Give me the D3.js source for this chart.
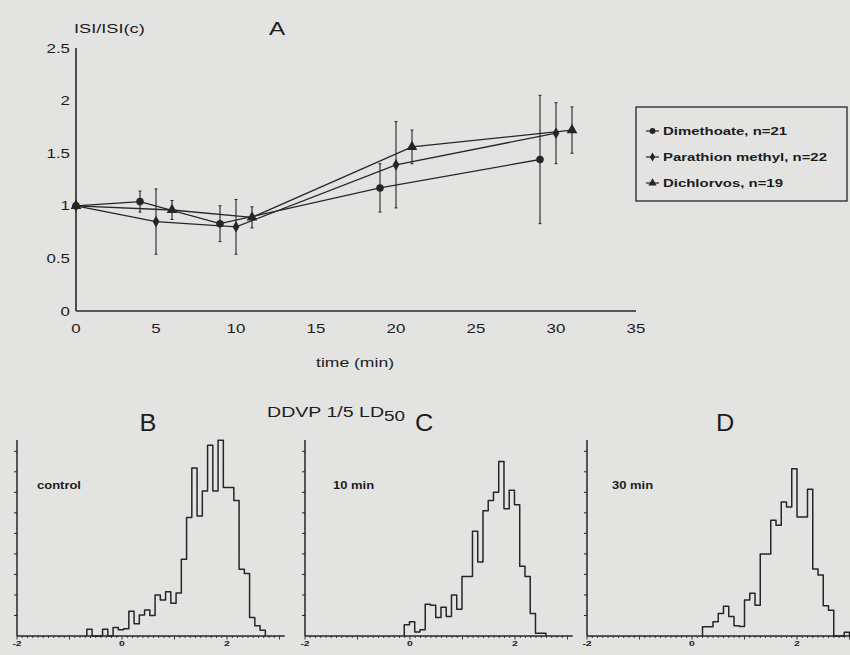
<!DOCTYPE html>
<html>
<head>
<meta charset="utf-8">
<script src="https://cdn.jsdelivr.net/npm/d3@7"></script>
<style>
  body { margin: 0; background: #e3e3e1; }
  svg { display: block; }
  text { font-family: "Liberation Sans", Arial, sans-serif; fill: #1c1c1c; }
</style>
</head>
<body>
<div id="chart"></div>
<script>
// ---- panel A: ISI ratio over time, mean and error per series ----
var dimTime = [0, 4, 9, 19, 29];
var dimVal  = [1, 1.04, 0.83, 1.17, 1.44];
var dimErr  = [0, 0.10, 0.17, 0.23, 0.61];
var parTime = [0, 5, 10, 20, 30];
var parVal  = [1, 0.85, 0.80, 1.39, 1.69];
var parErr  = [0, 0.31, 0.26, 0.41, 0.29];
var dicTime = [0, 6, 11, 21, 31];
var dicVal  = [1, 0.96, 0.89, 1.56, 1.72];
var dicErr  = [0, 0.09, 0.10, 0.16, 0.22];
var seriesNames = ["Dimethoate, n=21", "Parathion methyl, n=22", "Dichlorvos, n=19"];
var timeTicks  = [0, 5, 10, 15, 20, 25, 30, 35];
var ratioTicks = [0, 0.5, 1, 1.5, 2, 2.5];

// ---- panels B-D: histograms, bin width 0.1 ----
var binWidth = 0.1;
var controlStart = -0.67;
var controlCounts = [0.33, 0, 0, 0.33, 0, 0.42, 0.3, 0.35, 1.2, 0.6, 1.02, 1.27, 1.0, 2.0, 1.75,
  2.15, 1.6, 2.1, 3.74, 5.77, 8.18, 5.85, 7.07, 9.3, 7.07, 9.54, 7.24, 7.24, 6.6, 3.25, 3.05,
  0.9, 0.5, 0.28];
var min10Start = -0.11;
var min10Counts = [0.55, 0.7, 0.2, 0.3, 1.55, 1.5, 0.9, 1.4, 0.95, 2.0, 1.3, 2.9, 2.9, 5.1, 3.6,
  6.1, 6.6, 7.0, 8.5, 6.2, 7.1, 6.4, 3.4, 2.9, 1.1, 0.13, 0.13];
var min30Start = 0.2;
var min30Counts = [0.45, 0.45, 0.7, 1.1, 1.45, 0.95, 0.5, 0.46, 1.75, 2.08, 1.5, 4.0, 4.0, 5.64,
  5.4, 6.53, 6.29, 8.15, 5.8, 5.8, 7.15, 3.26, 2.97, 1.47, 1.26, 0, 0, 0.18];
var histTickLabels = [-2, 0, 2];
var histNames = ["control", "10 min", "30 min"];
var panelLetters = ["B", "C", "D"];

var width = 850, height = 655;
var ink = "#262626";

var svg = d3.select("#chart").append("svg")
    .attr("width", width)
    .attr("height", height);

// the scan is stretched sideways, so text gets a horizontal scale
function label(g, x, y, str, size, anchor, weight, sx) {
  return g.append("text")
      .attr("transform", "translate(" + x + "," + y + ") scale(" + sx + ",1)")
      .attr("font-size", size)
      .attr("font-weight", weight)
      .attr("text-anchor", anchor)
      .text(str);
}

// ================= panel A =================
var x = d3.scaleLinear().domain([0, 35]).range([76, 636]);
var y = d3.scaleLinear().domain([0, 2.5]).range([311, 48]);

var a = svg.append("g");

a.append("line").attr("x1", x(0)).attr("x2", x(0)).attr("y1", y(0)).attr("y2", y(2.5))
    .attr("stroke", ink).attr("stroke-width", 1.6);
a.append("line").attr("x1", x(0)).attr("x2", x(35)).attr("y1", y(0)).attr("y2", y(0))
    .attr("stroke", ink).attr("stroke-width", 1.6);

ratioTicks.forEach(function(t) {
  label(a, x(0) - 6, y(t) + 4.5, String(t), 12.5, "end", "normal", 1.35);
});
timeTicks.forEach(function(t) {
  label(a, x(t), y(0) + 22, String(t), 12.5, "middle", "normal", 1.35);
});
label(a, 355, 367, "time (min)", 13, "middle", "normal", 1.35);
label(a, 74, 33, "ISI/ISI(c)", 13, "start", "normal", 1.4);
label(a, 277, 35, "A", 18, "middle", "normal", 1.35);

var series = [
  {time: dimTime, val: dimVal, err: dimErr, sym: d3.symbolCircle, size: 45},
  {time: parTime, val: parVal, err: parErr, sym: d3.symbolDiamond, size: 40},
  {time: dicTime, val: dicVal, err: dicErr, sym: d3.symbolTriangle, size: 50}
];

var valueline = d3.line()
    .x(function(d) { return x(d.t); })
    .y(function(d) { return y(d.v); });

series.forEach(function(s) {
  var pts = s.time.map(function(t, i) { return {t: t, v: s.val[i], e: s.err[i]}; });

  a.append("path")
      .datum(pts)
      .attr("fill", "none")
      .attr("stroke", ink)
      .attr("stroke-width", 1.3)
      .attr("d", valueline);

  // error bars
  pts.filter(function(d) { return d.e > 0; }).forEach(function(d) {
    a.append("line").attr("x1", x(d.t)).attr("x2", x(d.t))
        .attr("y1", y(d.v - d.e)).attr("y2", y(d.v + d.e))
        .attr("stroke", ink).attr("stroke-width", 1.1);
    [d.v - d.e, d.v + d.e].forEach(function(v) {
      a.append("line").attr("x1", x(d.t) - 1.5).attr("x2", x(d.t) + 1.5)
          .attr("y1", y(v)).attr("y2", y(v))
          .attr("stroke", ink).attr("stroke-width", 1);
    });
  });

  a.selectAll(null).data(pts).enter().append("path")
      .attr("transform", function(d) { return "translate(" + x(d.t) + "," + y(d.v) + ")"; })
      .attr("d", d3.symbol().type(s.sym).size(s.size))
      .attr("fill", ink);
});

// legend
var lg = svg.append("g");
lg.append("rect").attr("x", 636).attr("y", 107).attr("width", 211).attr("height", 94)
    .attr("fill", "none").attr("stroke", ink).attr("stroke-width", 1.3);
seriesNames.forEach(function(name, i) {
  var ly = 131 + i * 26;
  lg.append("line").attr("x1", 646).attr("x2", 659).attr("y1", ly).attr("y2", ly)
      .attr("stroke", ink).attr("stroke-width", 1.2);
  lg.append("path")
      .attr("transform", "translate(652.5," + ly + ")")
      .attr("d", d3.symbol().type(series[i].sym).size(series[i].size * 0.6))
      .attr("fill", ink);
  label(lg, 663, ly + 4, name, 11.5, "start", "bold", 1.3);
});

// ================= panels B, C, D =================
var histY = d3.scaleLinear().domain([0, 9.55]).range([636, 440]);
var histLeft = [17, 305, 587];
var histStart = [controlStart, min10Start, min30Start];
var histCounts = [controlCounts, min10Counts, min30Counts];
var letterX = [148, 424, 725];
var nameX = [37, 333, 612];

var stepline = d3.line()
    .curve(d3.curveStepAfter)
    .x(function(d) { return d.px; })
    .y(function(d) { return histY(d.c); });

histLeft.forEach(function(left, p) {
  var hx = d3.scaleLinear().domain([-2, 3.1]).range([left, left + 5.1 * 52.5]);
  var g = svg.append("g");

  // axes
  g.append("line").attr("x1", hx(-2)).attr("x2", hx(3.1)).attr("y1", histY(0)).attr("y2", histY(0))
      .attr("stroke", ink).attr("stroke-width", 1.5);
  g.append("line").attr("x1", hx(-2)).attr("x2", hx(-2)).attr("y1", histY(0)).attr("y2", histY(9.55))
      .attr("stroke", ink).attr("stroke-width", 1.5);

  d3.range(1, 10).forEach(function(k) {
    g.append("line").attr("x1", hx(-2) - 3).attr("x2", hx(-2)).attr("y1", histY(k)).attr("y2", histY(k))
        .attr("stroke", ink).attr("stroke-width", 1);
  });
  d3.range(-20, 31).forEach(function(k) {
    var v = k / 10;
    g.append("line").attr("x1", hx(v)).attr("x2", hx(v))
        .attr("y1", histY(0)).attr("y2", histY(0) + (k % 10 === 0 ? 3.5 : 2))
        .attr("stroke", ink).attr("stroke-width", 0.9);
  });
  histTickLabels.forEach(function(t) {
    label(g, hx(t), 646, String(t), 8, "middle", "bold", 1.3);
  });

  // step outline
  var pts = [];
  var s0 = histStart[p];
  pts.push({px: hx(s0), c: 0});
  histCounts[p].forEach(function(c, k) {
    pts.push({px: hx(s0 + k * binWidth), c: c});
  });
  pts.push({px: hx(s0 + histCounts[p].length * binWidth), c: 0});

  g.append("path")
      .datum(pts)
      .attr("fill", "none")
      .attr("stroke", ink)
      .attr("stroke-width", 1.5)
      .attr("stroke-linejoin", "round")
      .attr("d", stepline);

  label(g, nameX[p], 489, histNames[p], 10, "start", "bold", 1.3);
  label(g, letterX[p], 431, panelLetters[p], 23, "middle", "normal", 1.1);
});

// title over the histograms, with subscript
var title = svg.append("text")
    .attr("transform", "translate(267,417) scale(1.35,1)")
    .attr("font-size", 14.5);
title.append("tspan").text("DDVP 1/5 LD");
title.append("tspan").attr("dy", 4).attr("font-size", 14).text("50");
</script>
</body>
</html>
